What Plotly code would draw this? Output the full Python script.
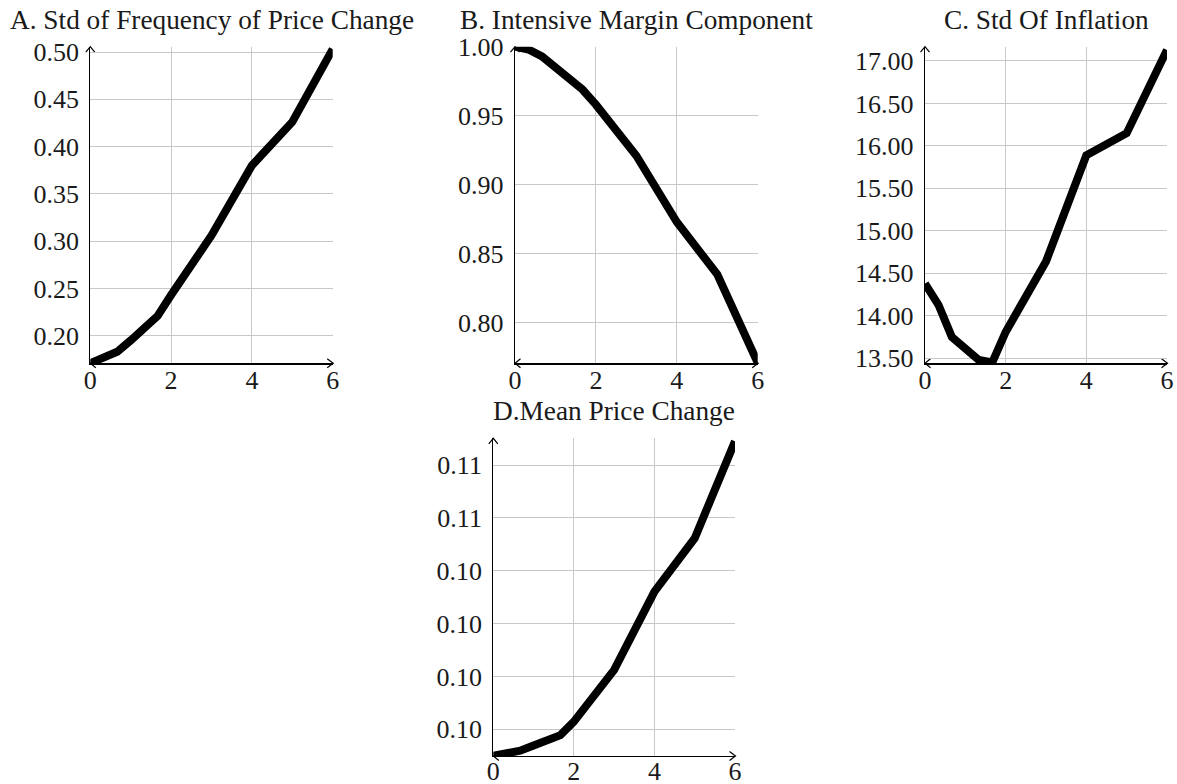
import plotly.graph_objects as go

W, H = 1177, 784

# ---- data ----
x_vals = [0, 1/3, 2/3, 1, 4/3, 5/3, 2, 3, 4, 5, 6]
freq_std = [0.171, 0.177, 0.183, 0.195, 0.208, 0.221, 0.243, 0.306, 0.380, 0.426, 0.503]
intensive = [1.000, 0.998, 0.993, 0.985, 0.977, 0.969, 0.958, 0.921, 0.873, 0.835, 0.771]
infl_std = [14.38, 14.13, 13.75, 13.62, 13.48, 13.45, 13.81, 14.64, 15.89, 16.15, 17.13]
mean_dp = [0.0970, 0.09708, 0.09719, 0.09739, 0.09758, 0.09778, 0.09829, 0.10025, 0.10321, 0.10523, 0.1089]

titles = ["A. Std of Frequency of Price Change", "B. Intensive Margin Component",
          "C. Std Of Inflation", "D.Mean Price Change"]
x_ticks = [0, 2, 4, 6]
yticks_A = [0.20, 0.25, 0.30, 0.35, 0.40, 0.45, 0.50]
yticks_B = [0.80, 0.85, 0.90, 0.95, 1.00]
yticks_C = [13.5, 14.0, 14.5, 15.0, 15.5, 16.0, 16.5, 17.0]
yticks_D = [0.098, 0.100, 0.102, 0.104, 0.106, 0.108]

# ---- layout geometry (screen pixels) ----
panels = [
    dict(y=freq_std, yt=yticks_A, yr=[0.1708, 0.5056], px=(90.3, 332.7), py=(46.7, 363.3), xs=-7),
    dict(y=intensive, yt=yticks_B, yr=[0.7706, 1.0], px=(515, 757.7), py=(46.7, 363.3), xs=-7),
    dict(y=infl_std, yt=yticks_C, yr=[13.441, 17.168], px=(925, 1167), py=(46.7, 363.3), xs=-7),
    dict(y=mean_dp, yt=yticks_D, yr=[0.09699, 0.10901], px=(493.3, 735), py=(438.3, 756), xs=-8),
]

FONT = "Liberation Serif"
TXT = "#1a1a1a"
GRID = "#c8c8c8"

fig = go.Figure()
shapes = []
annotations = []

def fx(p):
    return p / W

def fy(p):
    return 1 - p / H

for i, p in enumerate(panels):
    n = "" if i == 0 else str(i + 1)
    fig.add_trace(go.Scatter(x=x_vals, y=p["y"], mode="lines",
                             line=dict(color="black", width=8),
                             xaxis="x" + n, yaxis="y" + n, showlegend=False,
                             hoverinfo="skip"))
    xa = dict(domain=[fx(p["px"][0]), fx(p["px"][1])], range=[0, 6],
              anchor="y" + n, tickvals=x_ticks, showgrid=True, gridcolor=GRID,
              gridwidth=1, zeroline=False, showline=True, linecolor="black",
              linewidth=1.2, ticks="", ticklabelstandoff=p["xs"], automargin=False,
              tickfont=dict(family=FONT, size=26, color=TXT),
              layer="below traces", fixedrange=True)
    ya = dict(domain=[fy(p["py"][1]), fy(p["py"][0])], range=p["yr"],
              anchor="x" + n, tickvals=p["yt"], tickformat=".2f", showgrid=True,
              gridcolor=GRID, gridwidth=1, zeroline=False, showline=True,
              linecolor="black", linewidth=1.2, ticks="", ticklabelstandoff=5,
              automargin=False,
              tickfont=dict(family=FONT, size=26, color=TXT),
              layer="below traces", fixedrange=True)
    fig.update_layout(**{"xaxis" + n: xa, "yaxis" + n: ya})

    x0, x1 = p["px"]
    y0, y1 = p["py"]
    # arrowheads: up (y axis top), right (x axis end), left (x axis start)
    a = 4.5
    shapes.append(dict(type="path", xref="paper", yref="paper", layer="below",
                       path=f"M {fx(x0-a)},{fy(y0+a+1)} L {fx(x0)},{fy(y0)} L {fx(x0+a)},{fy(y0+a+1)}",
                       line=dict(color="black", width=1.2)))
    shapes.append(dict(type="path", xref="paper", yref="paper", layer="below",
                       path=f"M {fx(x1-a-1)},{fy(y1-a)} L {fx(x1+0.5)},{fy(y1)} L {fx(x1-a-1)},{fy(y1+a)}",
                       line=dict(color="black", width=1.2)))
    shapes.append(dict(type="path", xref="paper", yref="paper", layer="below",
                       path=f"M {fx(x0+a+1)},{fy(y1-a)} L {fx(x0)},{fy(y1)} L {fx(x0+a+1)},{fy(y1+a)}",
                       line=dict(color="black", width=1.2)))
    annotations.append(dict(text=titles[i], xref="paper", yref="paper",
                            x=fx((x0 + x1) / 2), y=fy(y0 - 27), xanchor="center",
                            yanchor="middle", showarrow=False,
                            font=dict(family=FONT, size=27.3, color=TXT)))

fig.update_layout(template="none", width=W, height=H, autosize=False,
                  margin=dict(l=0, r=0, t=0, b=0, pad=0),
                  paper_bgcolor="white", plot_bgcolor="rgba(0,0,0,0)",
                  shapes=shapes, annotations=annotations, showlegend=False)

fig.write_html("out.html", config={"displayModeBar": False, "staticPlot": True},
               post_script="document.body.style.margin='0px';"
                           "document.body.style.overflow='hidden';")
